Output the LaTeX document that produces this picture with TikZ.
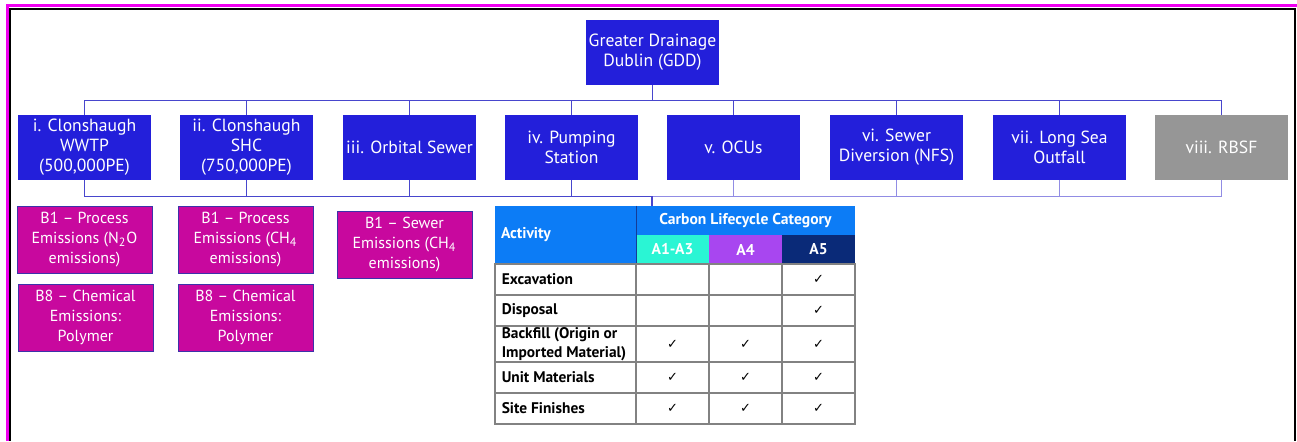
\documentclass[tikz,border=0pt]{standalone}
\usepackage{fontspec}
\setmainfont{PT Sans}
\newfontfamily\sym{DejaVu Sans}
\usetikzlibrary{fit}
\definecolor{boxblue}{RGB}{35,31,218}
\definecolor{boxgrey}{RGB}{150,150,150}
\definecolor{boxmag}{RGB}{200,8,158}
\definecolor{magedge}{RGB}{60,50,170}
\definecolor{conn}{RGB}{72,70,205}
\definecolor{connlt}{RGB}{145,140,228}
\definecolor{hdrblue}{RGB}{12,124,246}
\definecolor{hdrline}{RGB}{20,60,150}
\definecolor{cteal}{RGB}{42,245,212}
\definecolor{cpurple}{RGB}{168,70,240}
\definecolor{cnavy}{RGB}{10,42,120}
\definecolor{framemag}{RGB}{240,0,240}
\definecolor{gridgrey}{RGB}{130,130,130}
\tikzset{
  bbox/.style={rectangle, fill=boxblue, text=white, minimum width=66.5pt, minimum height=32.5pt,
    inner sep=1pt, align=center, font=\fontsize{8.8}{10}\selectfont},
  gbox/.style={bbox, fill=boxgrey},
  mbox/.style={rectangle, fill=boxmag, draw=magedge, line width=0.5pt, text=white,
    minimum width=67.5pt, minimum height=33.5pt, inner sep=1pt, align=center,
    font=\fontsize{8}{10}\selectfont},
  conn/.style={draw=conn, line width=0.8pt},
  connl/.style={draw=connlt, line width=0.8pt},
  tcell/.style={rectangle, draw=gridgrey, line width=0.6pt, inner sep=0pt},
  hcell/.style={rectangle, inner sep=0pt},
  htext/.style={inner sep=0pt, text=white, font=\fontsize{7.8}{9}\selectfont\bfseries},
  rowlab/.style={anchor=west, inner sep=0pt, align=left, font=\fontsize{7.7}{9.2}\selectfont\bfseries},
  chk/.style={inner sep=0pt, font=\fontsize{6.5}{8}\sym},
}
\begin{document}
\begin{tikzpicture}[x=0.5pt,y=-0.5pt]
\useasboundingbox (0,0) rectangle (1297,441);
% frame
\draw[framemag, line width=1.5pt] (7,441) -- (7,5.5) -- (1297,5.5);
\draw[black, line width=0.8pt] (9.8,441) -- (9.8,9) -- (1295,9) -- (1295,441);

% top node
\node[bbox] (gdd) at (652.5,52.5) {Greater Drainage\\Dublin (GDD)};

% second row
\node[bbox] (b1) at (84.5,147.5) {i. Clonshaugh\\WWTP\\(500,000PE)};
\node[bbox] (b2) at (246.5,147.5) {ii. Clonshaugh\\SHC\\(750,000PE)};
\node[bbox] (b3) at (409.5,147.5) {iii. Orbital Sewer};
\node[bbox] (b4) at (571.5,147.5) {iv. Pumping\\Station};
\node[bbox] (b5) at (733.5,147.5) {v. OCUs};
\node[bbox] (b6) at (896.5,147.5) {vi. Sewer\\Diversion (NFS)};
\node[bbox] (b7) at (1059.5,147.5) {vii. Long Sea\\Outfall};
\node[gbox] (b8) at (1221.5,147.5) {viii. RBSF};

% connectors top
\foreach \n in {b1,b2,b3,b4,b5,b6,b7,b8}
  \draw[conn] (gdd.south) -- ++(0,15) -| (\n.north);

% connectors bottom to table
\coordinate (tin) at (652,206);
\foreach \n in {b5,b6,b7,b8}
  \draw[connl] (\n.south) -- ++(0,16) -| (tin);
\foreach \n in {b1,b2,b3,b4}
  \draw[conn] (\n.south) -- ++(0,16) -| (tin);

% magenta boxes
\node[mbox] (m1a) at (84.5,239.5) {B1 -- Process\\Emissions (N\textsubscript{2}O\\emissions)};
\node[mbox] (m1b) at (85.5,317.5) {B8 -- Chemical\\Emissions:\\Polymer};
\node[mbox] (m2a) at (245.5,239.5) {B1 -- Process\\Emissions (CH\textsubscript{4}\\emissions)};
\node[mbox] (m2b) at (245.5,317.5) {B8 -- Chemical\\Emissions:\\Polymer};
\node[mbox] (m3) at (404.5,245) {B1 -- Sewer\\Emissions (CH\textsubscript{4}\\emissions)};

% table header
\node[hcell, fill=hdrblue, fit={(495,206)(636,264)}] (hact) {};
\node[htext, anchor=west] (hactt) at ([xshift=3pt]hact.west) {Activity};
\node[hcell, fill=hdrblue, fit={(636,206)(855,235)}] (hcat) {};
\node[htext] (hcatt) at (hcat.center) {Carbon Lifecycle Category};
\node[hcell, fill=cteal, fit={(636,235)(709,264)}] (ha13) {};
\node[htext] (ha13t) at (ha13.center) {A1-A3};
\node[hcell, fill=cpurple, fit={(709,235)(782,264)}] (ha4) {};
\node[htext] (ha4t) at (ha4.center) {A4};
\node[hcell, fill=cnavy, fit={(782,235)(855,264)}] (ha5) {};
\node[htext] (ha5t) at (ha5.center) {A5};
\draw[hdrline, line width=0.5pt] (hact.north east) -- (hact.south east);

% table body
\node[tcell, fit={(495,264)(636,295)}] (r1) {};
\node[rowlab] (r1t) at ([xshift=3.5pt]r1.west) {Excavation};
\node[tcell, fit={(636,264)(709,295)}] (r1a) {};
\node[tcell, fit={(709,264)(782,295)}] (r1b) {};
\node[tcell, fit={(782,264)(855,295)}] (r1c) {};
\node[chk] (k1c) at (r1c.center) {✓};

\node[tcell, fit={(495,295)(636,326)}] (r2) {};
\node[rowlab] (r2t) at ([xshift=3.5pt]r2.west) {Disposal};
\node[tcell, fit={(636,295)(709,326)}] (r2a) {};
\node[tcell, fit={(709,295)(782,326)}] (r2b) {};
\node[tcell, fit={(782,295)(855,326)}] (r2c) {};
\node[chk] (k2c) at (r2c.center) {✓};

\node[tcell, fit={(495,326)(636,362)}] (r3) {};
\node[rowlab] (r3t) at ([xshift=3.5pt]r3.west) {Backfill (Origin or\\Imported Material)};
\node[tcell, fit={(636,326)(709,362)}] (r3a) {};
\node[tcell, fit={(709,326)(782,362)}] (r3b) {};
\node[tcell, fit={(782,326)(855,362)}] (r3c) {};
\node[chk] (k3a) at (r3a.center) {✓};
\node[chk] (k3b) at (r3b.center) {✓};
\node[chk] (k3c) at (r3c.center) {✓};

\node[tcell, fit={(495,362)(636,393)}] (r4) {};
\node[rowlab] (r4t) at ([xshift=3.5pt]r4.west) {Unit Materials};
\node[tcell, fit={(636,362)(709,393)}] (r4a) {};
\node[tcell, fit={(709,362)(782,393)}] (r4b) {};
\node[tcell, fit={(782,362)(855,393)}] (r4c) {};
\node[chk] (k4a) at (r4a.center) {✓};
\node[chk] (k4b) at (r4b.center) {✓};
\node[chk] (k4c) at (r4c.center) {✓};

\node[tcell, fit={(495,393)(636,424)}] (r5) {};
\node[rowlab] (r5t) at ([xshift=3.5pt]r5.west) {Site Finishes};
\node[tcell, fit={(636,393)(709,424)}] (r5a) {};
\node[tcell, fit={(709,393)(782,424)}] (r5b) {};
\node[tcell, fit={(782,393)(855,424)}] (r5c) {};
\node[chk] (k5a) at (r5a.center) {✓};
\node[chk] (k5b) at (r5b.center) {✓};
\node[chk] (k5c) at (r5c.center) {✓};
\end{tikzpicture}
\end{document}
